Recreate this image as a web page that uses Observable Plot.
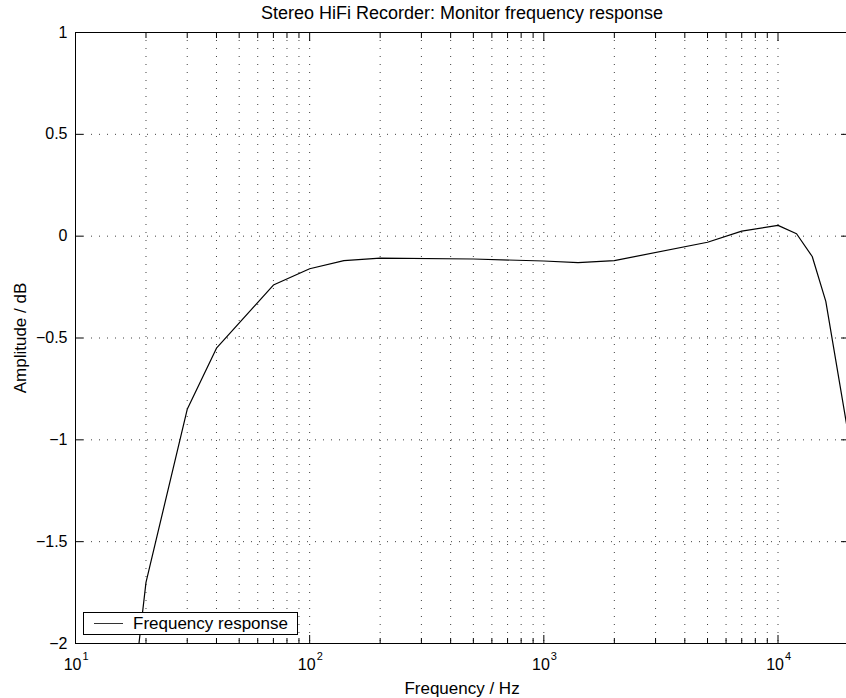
<!DOCTYPE html>
<html>
<head>
<meta charset="utf-8">
<script src="https://cdn.jsdelivr.net/npm/d3@7"></script>
<script src="https://cdn.jsdelivr.net/npm/@observablehq/plot@0.6"></script>
<style>
  body { margin: 0; background: #fff; }
  #chart { position: relative; width: 846px; height: 698px; overflow: hidden; font-family: "Liberation Sans", Arial, sans-serif; }
  #chart svg { display: block; }
  #legend { position: absolute; left: 83px; top: 612px; width: 213px; height: 21px; border: 1px solid #000; background: #fff;
            display: flex; align-items: center; font-size: 17px; color: #000; }
  #legend .swatch { width: 29px; height: 0; border-top: 1px solid #333; margin: 0 10px 0 10px; }
</style>
</head>
<body>
<div id="chart"><div id="legend"><span class="swatch"></span><span>Frequency response</span></div></div>
<script>
// Monitor frequency response, measured points
const freqHz = [15, 20, 30, 40, 70, 100, 140, 200, 500, 1000, 1400, 2000, 5000, 7000, 10000, 12000, 14000, 16000, 20000];
const amplitudeDb = [-2.95, -1.70, -0.85, -0.55, -0.24, -0.16, -0.12, -0.108, -0.112, -0.122, -0.13, -0.12, -0.03, 0.025, 0.053, 0.012, -0.10, -0.32, -0.98];

// Axis ticks
const decades = [10, 100, 1000, 10000];
const decadeExponents = ["1", "2", "3", "4"];
const minorMultipliers = [2, 3, 4, 5, 6, 7, 8, 9];
const yTicks = [-2, -1.5, -1, -0.5, 0, 0.5, 1];

const title = "Stereo HiFi Recorder: Monitor frequency response";
const xLabel = "Frequency / Hz";
const yLabel = "Amplitude / dB";

const data = freqHz.map((f, i) => ({f, db: amplitudeDb[i]}));
const minorTicks = decades.flatMap(d => minorMultipliers.map(m => m * d)).filter(v => v <= 20000);
const xGrid = [...decades.slice(1), ...minorTicks];
const fmtY = d => (d < 0 ? "\u2212" : "") + Math.abs(d);
const fontFamily = "Liberation Sans, Arial, sans-serif";

const dotted = {stroke: "#000", strokeOpacity: 0.75, strokeWidth: 1, strokeDasharray: "1,7"};

const chart = Plot.plot({
  width: 846,
  height: 698,
  marginLeft: 75,
  marginRight: -2,
  marginTop: 32,
  marginBottom: 55,
  style: {fontFamily, fontSize: "16px", background: "#fff", color: "#000"},
  x: {type: "log", domain: [10, 20000], label: null},
  y: {domain: [-2, 1], label: null},
  marks: [
    // dotted grid
    Plot.ruleX(xGrid, dotted),
    Plot.ruleY(yTicks.slice(1, -1), dotted),
    // response curve
    Plot.line(data, {x: "f", y: "db", stroke: "#000", strokeWidth: 1.2, clip: true}),
    // box
    Plot.frame({stroke: "#000", strokeWidth: 1}),
    // inward ticks on all four sides
    Plot.axisX(decades, {anchor: "bottom", tickSize: -8, fill: "none"}),
    Plot.axisX(decades, {anchor: "top", tickSize: -8, fill: "none"}),
    Plot.axisX(minorTicks, {anchor: "bottom", tickSize: -5, fill: "none"}),
    Plot.axisX(minorTicks, {anchor: "top", tickSize: -5, fill: "none"}),
    Plot.axisY(yTicks, {anchor: "left", tickSize: -8, fill: "none"}),
    Plot.axisY(yTicks, {anchor: "right", tickSize: -8, fill: "none"}),
    // tick labels
    Plot.axisY(yTicks, {anchor: "left", tickSize: 0, tickPadding: 8, tickFormat: fmtY, fontSize: 16, label: null}),
    Plot.text(decades, {x: d => d, frameAnchor: "bottom", text: () => "10", textAnchor: "end", lineAnchor: "middle", dx: 6, dy: 21, fontSize: 16}),
    Plot.text(decades, {x: d => d, frameAnchor: "bottom", text: (d, i) => decadeExponents[i], textAnchor: "start", lineAnchor: "middle", dx: 7, dy: 13, fontSize: 11}),
    // titles
    Plot.text([title], {text: d => d, frameAnchor: "top", textAnchor: "middle", lineAnchor: "middle", dy: -19, fontSize: 18}),
    Plot.text([xLabel], {text: d => d, frameAnchor: "bottom", textAnchor: "middle", lineAnchor: "middle", dy: 45, fontSize: 17}),
    Plot.text([yLabel], {text: d => d, frameAnchor: "left", textAnchor: "middle", lineAnchor: "middle", dx: -55, rotate: -90, fontSize: 17})
  ]
});

document.getElementById("chart").prepend(chart);
</script>
</body>
</html>
